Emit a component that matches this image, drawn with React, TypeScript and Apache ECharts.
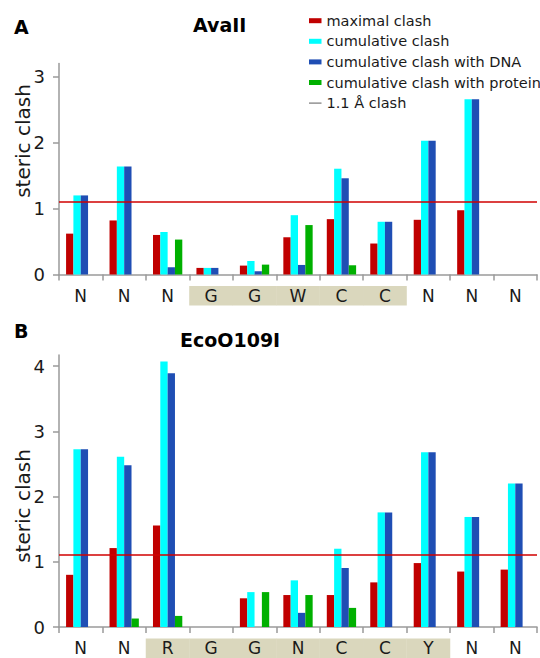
import React, { useEffect, useRef } from 'react';
import * as echarts from 'echarts';

// ---------- data ----------
const seriesNames = [
  'maximal clash',
  'cumulative clash',
  'cumulative clash with DNA',
  'cumulative clash with protein',
];
const thresholdName = '1.1 Å clash';
const threshold = 1.1;

// Panel A: AvaII
const avaCategories = ['N', 'N', 'N', 'G', 'G', 'W', 'C', 'C', 'N', 'N', 'N'];
const avaHighlighted = [3, 4, 5, 6, 7];
const avaMaximal = [0.62, 0.82, 0.6, 0.1, 0.135, 0.565, 0.84, 0.47, 0.83, 0.975, 0];
const avaCumulative = [1.2, 1.64, 0.645, 0.1, 0.205, 0.9, 1.605, 0.8, 2.03, 2.66, 0];
const avaDNA = [1.2, 1.64, 0.11, 0.1, 0.05, 0.145, 1.46, 0.8, 2.03, 2.66, 0];
const avaProtein = [0, 0, 0.53, 0, 0.15, 0.75, 0.14, 0, 0, 0, 0];
const avaTicks = [0, 1, 2, 3];
const avaYMax = 3.2;

// Panel B: EcoO109I
const ecoCategories = ['N', 'N', 'R', 'G', 'G', 'N', 'C', 'C', 'Y', 'N', 'N'];
const ecoHighlighted = [2, 3, 4, 5, 6, 7, 8];
const ecoMaximal = [0.8, 1.21, 1.555, 0, 0.44, 0.49, 0.49, 0.684, 0.98, 0.85, 0.88];
const ecoCumulative = [2.725, 2.61, 4.07, 0, 0.535, 0.715, 1.2, 1.757, 2.68, 1.687, 2.2];
const ecoDNA = [2.725, 2.48, 3.89, 0, 0, 0.217, 0.905, 1.757, 2.68, 1.687, 2.2];
const ecoProtein = [0, 0.13, 0.17, 0, 0.535, 0.49, 0.293, 0, 0, 0, 0];
const ecoTicks = [0, 1, 2, 3, 4];
const ecoYMax = 4.17;

// ---------- style ----------
const FONT = 'DejaVu Sans';
const COLORS = ['#c00000', '#00ffff', '#1f4eb4', '#00b000'];
const AXIS_COLOR = '#9a9a9a';
const TEXT_COLOR = '#1a1a1a';
const BAND_COLOR = '#dad7bd';
const GRID_LEFT = 59;
const GRID_WIDTH = 481.5;
const CAT_W = GRID_WIDTH / 11;

const panels = [
  {
    title: 'AvaII', letter: 'A', cats: avaCategories, hl: avaHighlighted,
    values: [avaMaximal, avaCumulative, avaDNA, avaProtein],
    ticks: avaTicks, yMax: avaYMax, top: 63.6, height: 210.9,
  },
  {
    title: 'EcoO109I', letter: 'B', cats: ecoCategories, hl: ecoHighlighted,
    values: [ecoMaximal, ecoCumulative, ecoDNA, ecoProtein],
    ticks: ecoTicks, yMax: ecoYMax, top: 355, height: 274.4,
  },
];

function buildOption() {
  const labelStyle = {
    width: CAT_W, height: 19.5, lineHeight: 19.5, align: 'center', verticalAlign: 'middle',
    fontSize: 17, fontFamily: FONT, color: TEXT_COLOR,
  };
  const grid = panels.map((p) => ({ left: GRID_LEFT, width: GRID_WIDTH, top: p.top, height: p.height }));
  const xAxis = panels.map((p, gi) => ({
    type: 'category', gridIndex: gi, data: p.cats, boundaryGap: true,
    axisLine: { lineStyle: { color: AXIS_COLOR, width: 1.5 } },
    axisTick: { show: true, length: 6, interval: 0, lineStyle: { color: AXIS_COLOR, width: 1.5 } },
    axisLabel: {
      interval: 0, margin: 11.5,
      formatter: (v: string, i: number) => (p.hl.includes(i) ? `{h|${v}}` : `{n|${v}}`),
      rich: { h: { ...labelStyle, backgroundColor: BAND_COLOR }, n: { ...labelStyle } },
    },
    splitLine: { show: false },
  }));
  const yAxis = panels.map((p, gi) => ({
    type: 'value', gridIndex: gi, min: 0, max: p.yMax,
    axisLine: { show: true, lineStyle: { color: AXIS_COLOR, width: 1.5 } },
    axisTick: { show: true, length: 6, customValues: p.ticks, lineStyle: { color: AXIS_COLOR, width: 1.5 } },
    axisLabel: { customValues: p.ticks, margin: 14, fontSize: 18, fontFamily: FONT, color: TEXT_COLOR },
    splitLine: { show: false },
  }));
  const series: any[] = [];
  panels.forEach((p, gi) => {
    p.values.forEach((vals, si) => {
      series.push({
        type: 'bar', name: seriesNames[si], xAxisIndex: gi, yAxisIndex: gi,
        data: vals, barWidth: 7.33, barGap: '0%', color: COLORS[si],
        itemStyle: { color: COLORS[si] }, silent: true,
      });
    });
    series.push({
      type: 'line', name: thresholdName, xAxisIndex: gi, yAxisIndex: gi,
      data: [], color: '#777', silent: true,
      markLine: {
        silent: true, symbol: ['none', 'none'], label: { show: false },
        lineStyle: { color: '#d00000', width: 1.5, type: 'solid' },
        emphasis: { disabled: true },
        data: [{ yAxis: threshold }],
      },
    });
  });

  const graphic: any[] = [];
  const nameY = [141, 506];
  panels.forEach((p, gi) => {
    graphic.push({
      type: 'text', x: 23, y: nameY[gi], rotation: Math.PI / 2,
      style: { text: 'steric clash', fontSize: 20, fontFamily: FONT, fill: TEXT_COLOR, align: 'center', verticalAlign: 'middle' },
    });
  });

  const title = [
    { text: 'A', left: 14, top: 17, padding: 0, textStyle: { fontSize: 19, fontWeight: 'bold', fontFamily: FONT, color: '#000' } },
    { text: 'AvaII', left: 193, top: 15, padding: 0, textStyle: { fontSize: 19, fontWeight: 'bold', fontFamily: FONT, color: '#000' } },
    { text: 'B', left: 14, top: 321, padding: 0, textStyle: { fontSize: 19, fontWeight: 'bold', fontFamily: FONT, color: '#000' } },
    { text: 'EcoO109I', left: 180, top: 330, padding: 0, textStyle: { fontSize: 19, fontWeight: 'bold', fontFamily: FONT, color: '#000' } },
  ];

  return {
    animation: false,
    backgroundColor: '#ffffff',
    textStyle: { fontFamily: FONT },
    title,
    legend: {
      left: 309, top: 10.4, orient: 'vertical', padding: 0,
      itemWidth: 12.5, itemHeight: 5, itemGap: 0, selectedMode: false,
      textStyle: { fontSize: 14.5, lineHeight: 20.6, color: TEXT_COLOR, fontFamily: FONT },
      data: [
        ...seriesNames.map((n, i) => ({ name: n, icon: 'rect', itemStyle: { color: COLORS[i] } })),
        { name: thresholdName, icon: 'path://M0,0M12.5,5M0,1.9L12.5,1.9L12.5,3.1L0,3.1Z', itemStyle: { color: '#777' } },
      ],
    },
    grid, xAxis, yAxis, series, graphic,
  };
}

export default function App() {
  const ref = useRef<HTMLDivElement>(null);
  useEffect(() => {
    if (!ref.current) return;
    const chart = echarts.init(ref.current, undefined, { renderer: 'svg' });
    chart.setOption(buildOption() as any);
    return () => chart.dispose();
  }, []);
  return (
    <div
      ref={ref}
      style={{ position: 'fixed', left: 0, top: 0, width: 540, height: 658, background: '#fff' }}
    />
  );
}
